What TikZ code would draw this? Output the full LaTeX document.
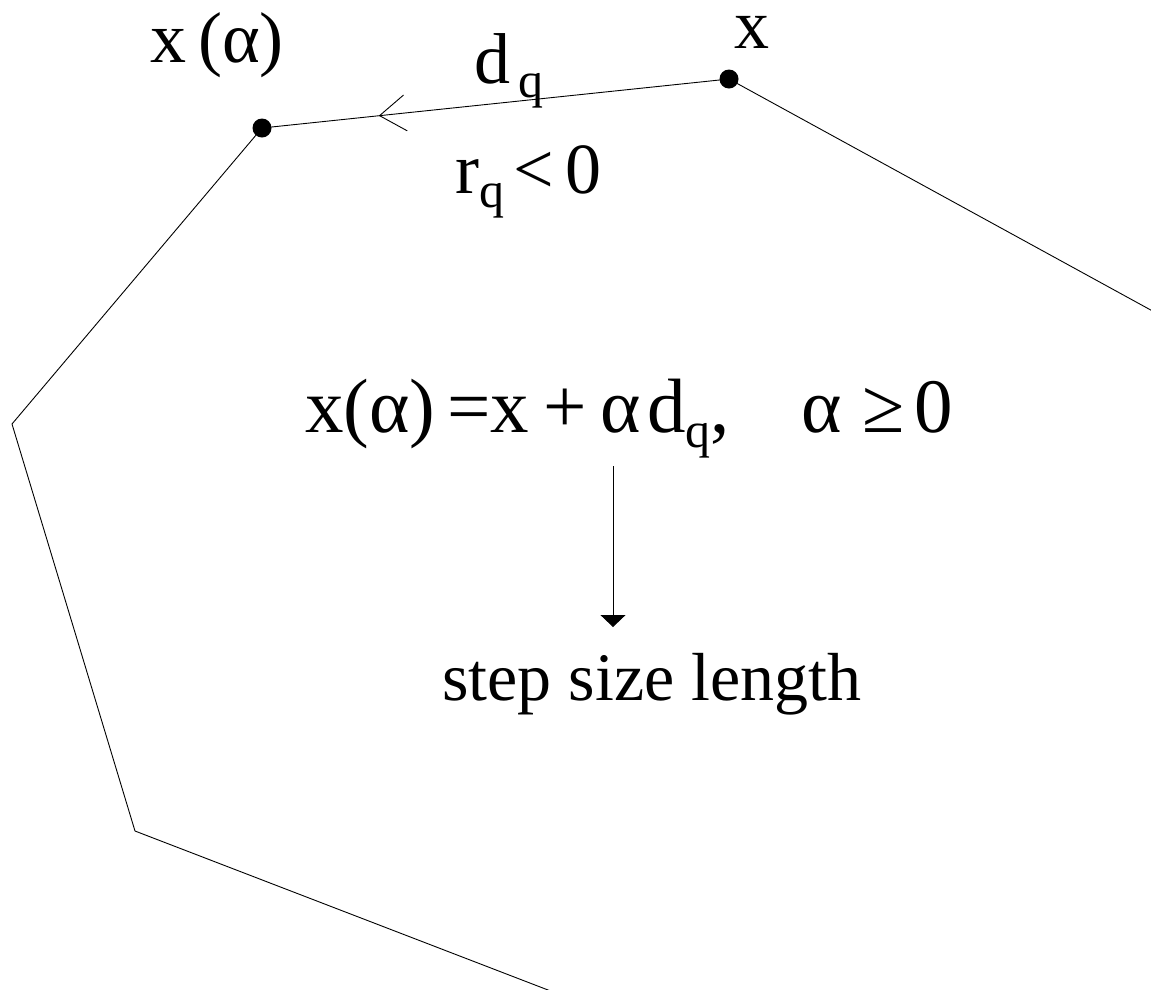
\documentclass[tikz,border=0pt]{standalone}
\usepackage{fontspec}
\setmainfont{Liberation Serif}
\usetikzlibrary{arrows.meta,decorations.markings}
\newcommand{\subq}[1]{\raisebox{-0.2em}{\fontsize{50}{52}\selectfont #1}}
\tikzset{
  edge/.style={line width=0.9pt, line join=miter},
  vdot/.style={circle, fill=black, inner sep=0pt, minimum size=19pt},
  lbl/.style={anchor=base west, inner sep=0pt, font=\fontsize{72}{76}\selectfont},
  midbarb/.style={postaction={decorate, decoration={markings,
      mark=at position 0.75 with {\arrow{Straight Barb[length=26pt,width=36pt,line width=0.9pt]}}}}}
}
\begin{document}
\begin{tikzpicture}[x=1pt, y=-1pt]
\useasboundingbox (0,0) rectangle (1151,989);
\clip (0,0) rectangle (1151,989);
% vertices
\node[vdot] (X) at (729,79) {};
\node[vdot] (Xa) at (262,128) {};
\coordinate (R) at (1200,337);
\coordinate (V1) at (12,424);
\coordinate (V2) at (135,831);
\coordinate (B) at (600,1010);
% polygon edges
\draw[edge] (X.center) -- (R);
\draw[edge, midbarb] (X.center) -- (Xa.center);
\draw[edge] (Xa.center) -- (V1) -- (V2) -- (B);
% labels
\node[lbl, font=\fontsize{70}{74}\selectfont] (lx) at (734,48) {x};
\node[lbl] (lxa) at (150,62) {x\hspace{12pt}(α)};
\node[lbl] (ldq) at (474,83) {d\hspace{8pt}\subq{q}};
\node[lbl] (lrq) at (455,193) {r\subq{q}\hspace{9pt}<\hspace{12pt}0};
\node[lbl, font=\fontsize{77}{80}\selectfont] (formula) at (305,432) {x(α)\hspace{12pt}=x\hspace{14pt}+\hspace{14pt}α\hspace{6pt}d\subq{q},\hspace{72pt}α\hspace{20pt}≥\hspace{10pt}0};
\node[lbl, font=\fontsize{68}{72}\selectfont] (step) at (442,700) {step size length};
% down arrow
\coordinate (atop) at (613,466);
\coordinate (atip) at (613,627);
\draw[edge, -{Triangle[length=12pt,width=25pt]}] (atop) -- (atip);
\end{tikzpicture}
\end{document}
